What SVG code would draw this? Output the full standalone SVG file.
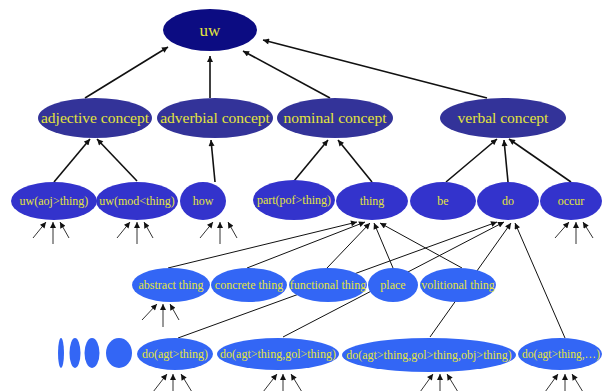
<svg xmlns="http://www.w3.org/2000/svg" width="603" height="391" viewBox="0 0 603 391">
<defs>
<style>
text{font-family:"Liberation Serif","Times New Roman",serif;fill:#e4e43c;text-anchor:middle}
.l0{fill:#0c0c82}.l1{fill:#333399}.l2{fill:#3333cc}.l3{fill:#3366f5}
.t0{font-size:17px}.t1{font-size:15.5px}.t2,.t3{font-size:12px}
.e{stroke:#111;fill:none}
.thick{stroke-width:1.6}.thin{stroke-width:1}.stub{stroke:#333;stroke-width:1}
</style>
<marker id="ah" viewBox="0 0 10 10" refX="10" refY="5" markerWidth="7" markerHeight="6" markerUnits="userSpaceOnUse" orient="auto">
<path d="M0,0 L10,5 L0,10 z" fill="#111"/>
</marker>
</defs>
<rect width="603" height="391" fill="#fff"/>
<g id="connectors" marker-end="url(#ah)">
<g class="e thick">
<line x1="85" y1="98" x2="168" y2="47"/>
<line x1="210" y1="98" x2="210" y2="56"/>
<line x1="330" y1="98" x2="243" y2="51"/>
<line x1="487" y1="98" x2="263" y2="40"/>
<line x1="54" y1="182" x2="90" y2="139"/>
<line x1="137" y1="181" x2="97" y2="139"/>
<line x1="215" y1="182" x2="211" y2="140"/>
<line x1="294" y1="181" x2="328" y2="140"/>
<line x1="372" y1="182" x2="338" y2="140"/>
<line x1="446" y1="182" x2="497" y2="139"/>
<line x1="508" y1="182" x2="504" y2="140"/>
<line x1="571" y1="182" x2="509" y2="139"/>
</g>
<g class="e thin">
<line x1="168" y1="268" x2="357" y2="222"/>
<line x1="247" y1="268" x2="365" y2="222"/>
<line x1="327" y1="268" x2="370" y2="223"/>
<line x1="393" y1="268" x2="374" y2="223"/>
<line x1="462" y1="268" x2="380" y2="223"/>
<line x1="178" y1="338" x2="497" y2="222"/>
<line x1="283" y1="337" x2="504" y2="222"/>
<line x1="430" y1="337" x2="511" y2="223"/>
<line x1="565" y1="338" x2="515" y2="223"/>
</g>
<g class="e stub">
<line x1="33" y1="238" x2="46" y2="222"/><line x1="53" y1="244" x2="53" y2="222"/><line x1="69" y1="238" x2="60" y2="222"/>
<line x1="117" y1="238" x2="130" y2="222"/><line x1="137" y1="244" x2="137" y2="222"/><line x1="153" y1="238" x2="144" y2="222"/>
<line x1="200" y1="238" x2="213" y2="222"/><line x1="220" y1="244" x2="220" y2="222"/><line x1="237" y1="238" x2="228" y2="222"/>
<line x1="555" y1="238" x2="569" y2="222"/><line x1="576" y1="244" x2="576" y2="222"/><line x1="593" y1="238" x2="583" y2="222"/>
<line x1="142" y1="320" x2="157" y2="304"/><line x1="163" y1="327" x2="163" y2="304"/><line x1="179" y1="320" x2="170" y2="304"/>
<line x1="153" y1="392" x2="167" y2="374"/><line x1="173" y1="392" x2="173" y2="374"/><line x1="192" y1="392" x2="181" y2="374"/>
<line x1="263" y1="392" x2="277" y2="374"/><line x1="283" y1="392" x2="283" y2="374"/><line x1="302" y1="392" x2="291" y2="374"/>
<line x1="420" y1="392" x2="433" y2="374"/><line x1="440" y1="392" x2="440" y2="374"/><line x1="458" y1="392" x2="447" y2="374"/>
<line x1="545" y1="392" x2="558" y2="374"/><line x1="565" y1="392" x2="565" y2="374"/><line x1="583" y1="392" x2="572" y2="374"/>
</g>
</g>
<g id="n-uw"><ellipse class="l0" cx="210" cy="30" rx="47" ry="21"/><text class="t0" x="210" y="36">uw</text></g>
<g id="n-adjective"><ellipse class="l1" cx="95" cy="118" rx="57" ry="20"/><text class="t1" x="95" y="123">adjective concept</text></g>
<g id="n-adverbial"><ellipse class="l1" cx="215" cy="118" rx="58" ry="20"/><text class="t1" x="215" y="123">adverbial concept</text></g>
<g id="n-nominal"><ellipse class="l1" cx="335" cy="118" rx="58" ry="20"/><text class="t1" x="335" y="123">nominal concept</text></g>
<g id="n-verbal"><ellipse class="l1" cx="503" cy="118" rx="63" ry="20"/><text class="t1" x="503" y="123">verbal concept</text></g>
<g id="n-aoj"><ellipse class="l2" cx="54" cy="201" rx="43" ry="19"/><text class="t2" x="54" y="205">uw(aoj&gt;thing)</text></g>
<g id="n-mod"><ellipse class="l2" cx="137" cy="201" rx="41" ry="19"/><text class="t2" x="137" y="205">uw(mod&lt;thing)</text></g>
<g id="n-how"><ellipse class="l2" cx="203" cy="201" rx="23" ry="19"/><text class="t2" x="203" y="205">how</text></g>
<g id="n-part"><ellipse class="l2" cx="294" cy="200" rx="41" ry="20"/><text class="t2" x="294" y="204">part(pof&gt;thing)</text></g>
<g id="n-thing"><ellipse class="l2" cx="372" cy="201" rx="36" ry="19"/><text class="t2" x="372" y="205">thing</text></g>
<g id="n-be"><ellipse class="l2" cx="443" cy="201" rx="33" ry="19"/><text class="t2" x="443" y="205">be</text></g>
<g id="n-do"><ellipse class="l2" cx="508" cy="201" rx="31" ry="19"/><text class="t2" x="508" y="205">do</text></g>
<g id="n-occur"><ellipse class="l2" cx="571" cy="201" rx="31" ry="19"/><text class="t2" x="571" y="205">occur</text></g>
<g id="n-abstract"><ellipse class="l3" cx="171" cy="285" rx="39" ry="17"/><text class="t3" x="171" y="289">abstract thing</text></g>
<g id="n-concrete"><ellipse class="l3" cx="249" cy="285" rx="38" ry="17"/><text class="t3" x="249" y="289">concrete thing</text></g>
<g id="n-functional"><ellipse class="l3" cx="328" cy="285" rx="39" ry="17"/><text class="t3" x="328" y="289">functional thing</text></g>
<g id="n-place"><ellipse class="l3" cx="393" cy="285" rx="25" ry="17"/><text class="t3" x="393" y="289">place</text></g>
<g id="n-volitional"><ellipse class="l3" cx="458" cy="285" rx="38" ry="17"/><text class="t3" x="458" y="289">volitional thing</text></g>
<g id="n-dots">
<ellipse class="l3" cx="61" cy="353" rx="3" ry="15"/>
<ellipse class="l3" cx="75" cy="353" rx="5.5" ry="15"/>
<ellipse class="l3" cx="92" cy="353" rx="7.5" ry="15"/>
<ellipse class="l3" cx="119" cy="353" rx="13" ry="15"/>
</g>
<g id="n-do1"><ellipse class="l3" cx="175" cy="354" rx="38" ry="16"/><text class="t3" x="175" y="358">do(agt&gt;thing)</text></g>
<g id="n-do2"><ellipse class="l3" cx="278" cy="354" rx="61" ry="16"/><text class="t3" x="278" y="358">do(agt&gt;thing,gol&gt;thing)</text></g>
<g id="n-do3"><ellipse class="l3" cx="429" cy="355" rx="87" ry="17"/><text class="t3" x="429" y="359">do(agt&gt;thing,gol&gt;thing,obj&gt;thing)</text></g>
<g id="n-do4"><ellipse class="l3" cx="560" cy="354" rx="42" ry="16"/><text class="t3" x="561" y="358" textLength="78" lengthAdjust="spacingAndGlyphs">do(agt&gt;thing,…)</text></g>
</svg>
